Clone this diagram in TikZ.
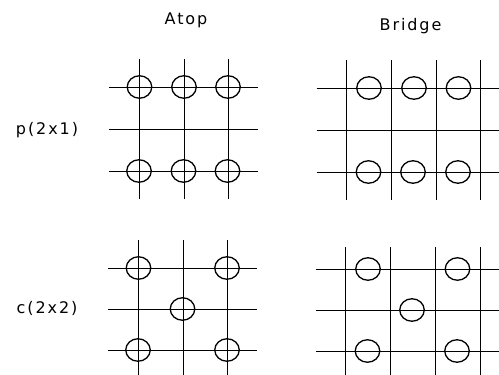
\documentclass[tikz,border=0pt]{standalone}
\usepackage{fontspec}
\setmainfont{DejaVu Sans}[LetterSpace=12]
\usetikzlibrary{positioning, shapes.geometric}

\begin{document}
\begin{tikzpicture}[x=1pt, y=-1pt,
    gridline/.style={line width=0.95pt, color=black},
    site/.style={draw=black, ellipse, line width=1.3pt, inner sep=0pt,
                 minimum width=24.5pt, minimum height=22.5pt},
    lab/.style={font=\fontsize{16}{19}\selectfont, inner sep=0pt, color=black}
]
\useasboundingbox (0,0) rectangle (499,375);
\node[lab] (Atop) at (186,20) {Atop};
\node[lab] (Bridge) at (410.5,26) {Bridge};
\node[lab] (PCell) at (47,130) {p(2x1)};
\node[lab] (CCell) at (47,308) {c(2x2)};

% p(2x1) atop
\foreach \y in {87,129,171} \draw[gridline] (109,\y) -- (258,\y);
\foreach \x in {139.5,184,228} \draw[gridline] (\x,59) -- (\x,199);
\foreach \x/\y/\n in {139.5/87/a,184/87/b,228/87/c,139/171/d,183.5/171/e,227.5/171/f}
    \node[site] (PA\n) at (\x,\y) {};

% p(2x1) bridge
\foreach \y in {88,130.5,172} \draw[gridline] (316.5,\y) -- (499,\y);
\foreach \x in {346.7,391.3,436,480.7} \draw[gridline] (\x,60) -- (\x,200);
\foreach \x/\y/\n in {369/88/a,414/88/b,458.5/88/c,368.5/172/d,413/172/e,458/172/f}
    \node[site] (PB\n) at (\x,\y) {};

% c(2x2) atop
\foreach \y in {268,309,350} \draw[gridline] (108,\y) -- (257,\y);
\foreach \x in {138.5,183,227} \draw[gridline] (\x,240) -- (\x,375);
\foreach \x/\y/\n in {138.5/268/a,227/268/b,182.5/309/c,138/350/d,227/350/e}
    \node[site] (CA\n) at (\x,\y) {};

% c(2x2) bridge
\foreach \y in {269,310,351} \draw[gridline] (315.5,\y) -- (499,\y);
\foreach \x in {345.7,390,435,480} \draw[gridline] (\x,247) -- (\x,375);
\foreach \x/\y/\n in {368/269/a,457.5/269/b,412/310/c,367.5/351/d,457/351/e}
    \node[site] (CB\n) at (\x,\y) {};
\end{tikzpicture}
\end{document}
